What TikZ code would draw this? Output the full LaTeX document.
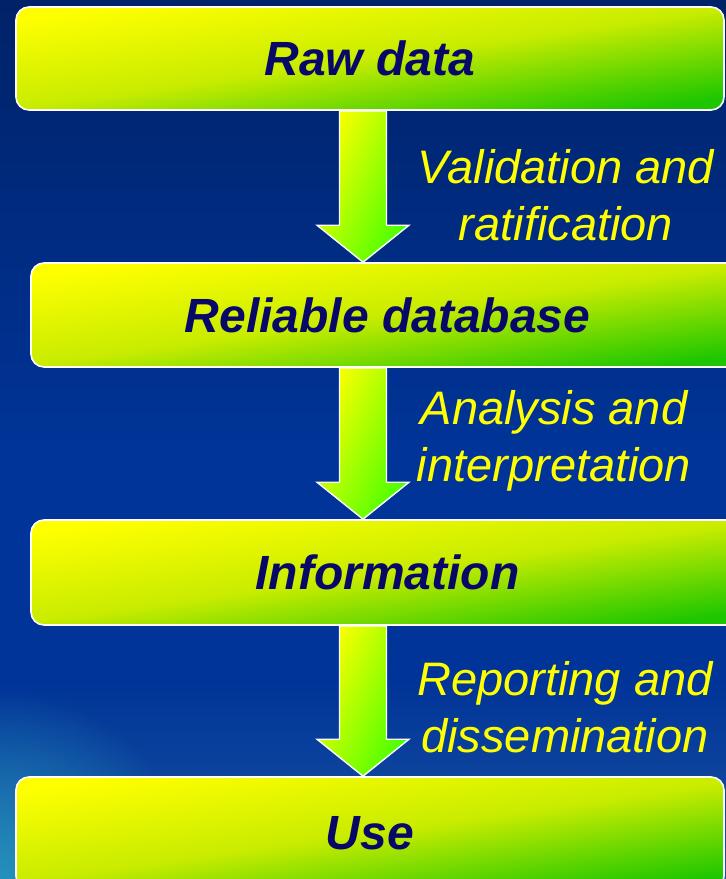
\documentclass[tikz,border=0pt]{standalone}
\usepackage{fontspec}
\setmainfont{Liberation Sans}
\usetikzlibrary{calc, fadings}
\definecolor{navyink}{RGB}{8,8,104}
\definecolor{labelyellow}{RGB}{255,255,0}
\definecolor{skytop}{RGB}{0,34,104}
\definecolor{skymid}{RGB}{0,52,152}
\definecolor{skylow}{RGB}{26,84,162}
\definecolor{glowteal}{RGB}{36,146,188}
\definecolor{limetop}{RGB}{255,255,0}
\definecolor{limemid}{RGB}{200,236,0}
\definecolor{limelow}{RGB}{28,198,0}
\definecolor{arrowlow}{RGB}{72,255,0}

\tikzfading[name=glowfade, inner color=transparent!0, outer color=transparent!100]

\begin{document}
\begin{tikzpicture}[x=1pt, y=-1pt,
    stage/.style={rectangle, rounded corners=13pt, draw=white, line width=1.6pt,
                  top color=limetop, bottom color=limelow, middle color=limemid,
                  shading angle=8, inner sep=0pt, text=navyink,
                  font=\fontsize{48}{58}\selectfont\bfseries\itshape},
    flow/.style={draw=white, line width=1.4pt, line join=miter,
                 top color=limetop, bottom color=arrowlow, shading angle=65},
    note/.style={anchor=base, align=center, text=labelyellow, inner sep=0pt,
                 font=\fontsize{47}{57}\selectfont\itshape}]

  \useasboundingbox (0,0) rectangle (726,879);
  \clip (0,0) rectangle (726,879);

  % backdrop: navy on top, lighter towards the bottom
  \shade[top color=skytop, bottom color=skymid] (0,0) rectangle (726,450);
  \fill[skymid] (0,449) rectangle (726,681);
  \shade[top color=skymid, bottom color=skylow] (0,680) rectangle (726,879);
  \fill[glowteal, path fading=glowfade] (0,879) circle (190);

  % stages
  \node[stage, minimum width=708, minimum height=103] (raw) at (370,58.5) {Raw data};
  \node[stage, minimum width=713, minimum height=104] (reliable) at (387.5,315) {Reliable database};
  \node[stage, minimum width=713, minimum height=105] (info) at (387.5,572.5) {Information};
  \node[stage, minimum width=708, minimum height=112] (use) at (370,833) {Use};

  % block arrows between the stages
  \coordinate (spine) at (363,0);
  \foreach \a/\b in {raw/reliable, reliable/info, info/use}
    \draw[flow] ($(\a.south -| spine)+(-23.5,0)$) -- ($(\b.north -| spine)+(-23.5,-37)$)
      -- ($(\b.north -| spine)+(-46,-37)$) -- (\b.north -| spine)
      -- ($(\b.north -| spine)+(46,-37)$) -- ($(\b.north -| spine)+(23.5,-37)$)
      -- ($(\a.south -| spine)+(23.5,0)$) -- cycle;

  % steps (base = last line)
  \node[note] (validate) at (566,240) {Validation and\\ratification};
  \node[note] (analyse) at (554,481) {Analysis and\\interpretation};
  \node[note] (report) at (565,752) {Reporting and\\dissemination};
\end{tikzpicture}
\end{document}
